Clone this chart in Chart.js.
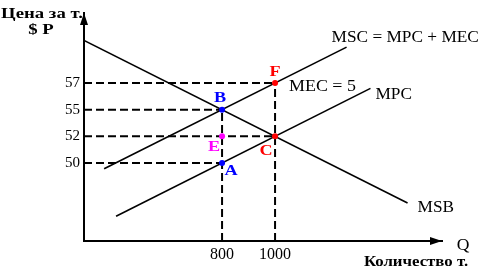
<!DOCTYPE html>
<html>
<head>
<meta charset="utf-8">
<script src="https://cdn.jsdelivr.net/npm/chart.js@4"></script>
<style>
html, body { margin: 0; padding: 0; background: #fff; }
</style>
</head>
<body>
<canvas id="chart" width="487" height="274"></canvas>
<script>
// Price axis is schematic: ticks are evenly spaced, one "level" each
const priceLevels = [1, 2, 3, 4];
const priceLabels = ['50', '52', '55', '57'];
const quantityTicks = [800, 1000];

// Axis ranges (quantity, price level)
const qRange = [279, 1630];
const levelRange = [-1.93, 6.63];

// Curves as [quantity, price level] end points
const msbLine = [[279, 5.6], [1500, -0.5]];
const mpcLine = [[400, -1.0], [1360, 3.8]];
const mscLine = [[355, 0.78], [1270, 5.35]];

// Marked points
const pointNames = ['A', 'B', 'E', 'C', 'F'];
const pointQ = [800, 800, 800, 1000, 1000];
const pointLevel = [1, 3, 2, 2, 4];
const pointColors = ['#0000ff', '#0000ff', '#ff00ff', '#ff0000', '#ff0000'];

// Dashed guides: horizontal [level, quantity end], vertical [quantity, level end]
const hGuides = [[1, 800], [3, 800], [2, 1000], [4, 1000]];
const vGuides = [[800, 3], [1000, 4]];

const toXY = pts => pts.map(p => ({ x: p[0], y: p[1] }));

// draw text squeezed/stretched horizontally like the old bitmap
function drawText(ctx, s, x, y, font, color, sx, align) {
  ctx.save();
  ctx.font = font;
  ctx.fillStyle = color;
  ctx.textBaseline = 'middle';
  ctx.textAlign = 'left';
  const w = ctx.measureText(s).width * sx;
  const left = align === 'center' ? x - w / 2 : align === 'right' ? x - w : x;
  ctx.translate(left, y);
  ctx.scale(sx, 1);
  ctx.fillText(s, 0, 0);
  ctx.restore();
}

const labelsPlugin = {
  id: 'labels',
  afterDraw(chart) {
    const ctx = chart.ctx;
    const xs = chart.scales.x, ys = chart.scales.y;
    const area = chart.chartArea;
    const px = q => xs.getPixelForValue(q);
    const py = l => ys.getPixelForValue(l);

    // arrow heads
    ctx.save();
    ctx.fillStyle = '#000';
    ctx.beginPath();
    ctx.moveTo(area.left, area.top);
    ctx.lineTo(area.left - 4, area.top + 12);
    ctx.lineTo(area.left + 4, area.top + 12);
    ctx.closePath();
    ctx.fill();
    ctx.beginPath();
    ctx.moveTo(area.right, area.bottom);
    ctx.lineTo(area.right - 12, area.bottom - 4);
    ctx.lineTo(area.right - 12, area.bottom + 4);
    ctx.closePath();
    ctx.fill();
    ctx.restore();

    const bold = "bold 15px 'Liberation Serif'";
    const reg = "16px 'Liberation Serif'";

    // axis titles
    drawText(ctx, 'Цена за т.', 42, 14, bold, '#000', 1.25, 'center');
    drawText(ctx, '$ P', 41, 30, bold, '#000', 1.25, 'center');
    drawText(ctx, 'Q', 463, 246, reg, '#000', 1.1, 'center');
    drawText(ctx, 'Количество т.', 416, 262, "bold 14px 'Liberation Serif'", '#000', 1.2, 'center');

    // curve labels
    const mscEnd = mscLine[1], mpcEnd = mpcLine[1], msbEnd = msbLine[1];
    drawText(ctx, 'MSC = MPC + MEC', px(mscEnd[0]) - 15, py(mscEnd[1]) - 9, reg, '#000', 1.08, 'left');
    drawText(ctx, 'MPC', px(mpcEnd[0]) + 5, py(mpcEnd[1]) + 6, reg, '#000', 1.08, 'left');
    drawText(ctx, 'MSB', px(msbEnd[0]) + 10, py(msbEnd[1]) + 5, reg, '#000', 1.08, 'left');
    drawText(ctx, 'MEC = 5', px(1000) + 14, py(4) + 4, reg, '#000', 1.12, 'left');

    // point letters
    const offs = { A: [9, 8], B: [-2, -11], E: [-8, 11], C: [-9, 15], F: [0, -11] };
    pointNames.forEach((n, i) => {
      const o = offs[n];
      drawText(ctx, n, px(pointQ[i]) + o[0], py(pointLevel[i]) + o[1],
        "bold 14px 'Liberation Serif'", pointColors[i], 1.3, 'center');
    });
  }
};

const guideSets = [
  ...hGuides.map(g => ({ data: toXY([[qRange[0], g[0]], [g[1], g[0]]]) })),
  ...vGuides.map(g => ({ data: toXY([[g[0], levelRange[0]], [g[0], g[1]]]) }))
].map(d => ({
  ...d, showLine: true, borderColor: '#000', borderWidth: 2,
  borderDash: [8, 4], pointRadius: 0
}));

const curveSets = [msbLine, mpcLine, mscLine].map(l => ({
  data: toXY(l), showLine: true, borderColor: '#000', borderWidth: 1.6, pointRadius: 0
}));

const pointSet = {
  data: pointQ.map((q, i) => ({ x: q, y: pointLevel[i] })),
  showLine: false,
  pointRadius: 3,
  pointBorderWidth: 0,
  pointBackgroundColor: pointColors,
  pointBorderColor: pointColors
};

new Chart(document.getElementById('chart'), {
  type: 'scatter',
  data: { datasets: [pointSet, ...curveSets, ...guideSets] },
  options: {
    responsive: false,
    animation: false,
    devicePixelRatio: 1,
    layout: { padding: { top: 10, right: 45, left: 0, bottom: 0 } },
    plugins: { legend: { display: false }, tooltip: { enabled: false } },
    scales: {
      x: {
        type: 'linear', min: qRange[0], max: qRange[1],
        grid: { display: false, drawTicks: false },
        border: { display: true, color: '#000', width: 2 },
        afterBuildTicks: s => { s.ticks = quantityTicks.map(v => ({ value: v })); },
        afterFit: s => { s.height = 33; },
        ticks: {
          autoSkip: false, padding: 4, color: '#000',
          font: { family: 'Liberation Serif', size: 16 },
          callback: v => String(v)
        }
      },
      y: {
        type: 'linear', min: levelRange[0], max: levelRange[1],
        grid: { display: false, drawTicks: false },
        border: { display: true, color: '#000', width: 2 },
        afterBuildTicks: s => { s.ticks = priceLevels.map(v => ({ value: v })); },
        afterFit: s => { s.width = 84; },
        ticks: {
          autoSkip: false, padding: 4, color: '#000',
          font: { family: 'Liberation Serif', size: 15 },
          callback: v => priceLabels[priceLevels.indexOf(v)] ?? ''
        }
      }
    }
  },
  plugins: [labelsPlugin]
});
</script>
</body>
</html>
